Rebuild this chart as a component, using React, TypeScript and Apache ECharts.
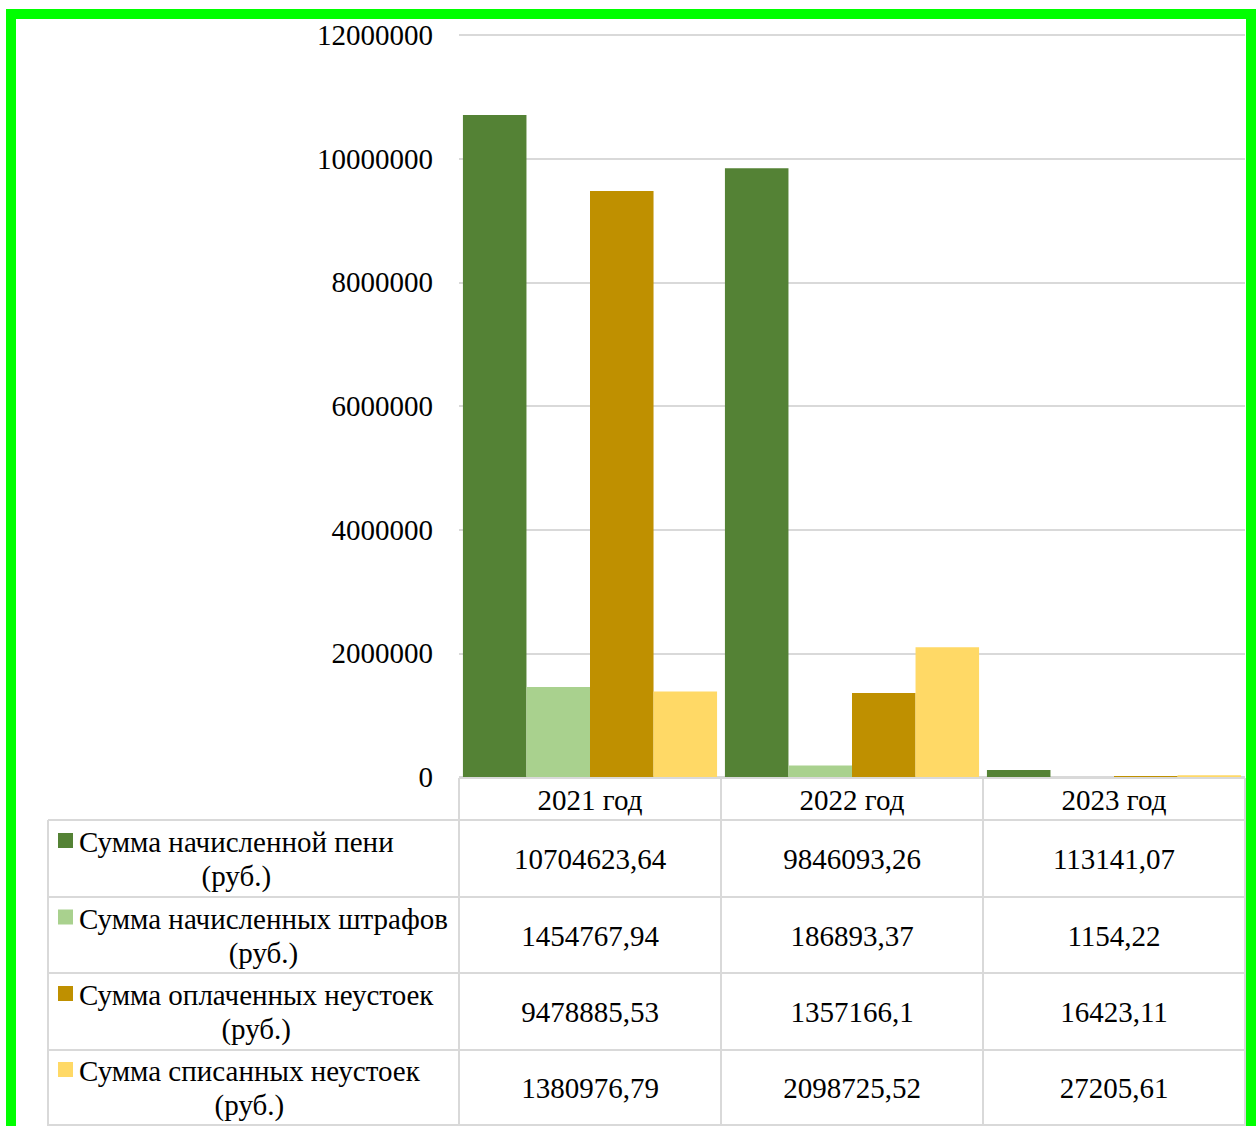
import React, { useEffect, useRef } from "react";
import * as echarts from "echarts";

const categories = ["2021 год", "2022 год", "2023 год"];
const seriesNames = [
  "Сумма начисленной пени (руб.)",
  "Сумма начисленных штрафов (руб.)",
  "Сумма оплаченных неустоек (руб.)",
  "Сумма списанных неустоек (руб.)",
];
const peni = [10704623.64, 9846093.26, 113141.07];
const shtrafy = [1454767.94, 186893.37, 1154.22];
const oplacheno = [9478885.53, 1357166.1, 16423.11];
const spisano = [1380976.79, 2098725.52, 27205.61];
const seriesValues = [peni, shtrafy, oplacheno, spisano];
const colors = ["#548235", "#A9D18E", "#BF9000", "#FFD966"];
const yMax = 12000000;
const yStep = 2000000;

const FONT = "Liberation Serif";
const FS = 29;

const fmt = (v: number) => String(v).replace(".", ",");

function measure(text: string): number {
  const c = document.createElement("canvas").getContext("2d");
  if (!c) return text.length * 12;
  c.font = `${FS}px "${FONT}"`;
  return c.measureText(text).width;
}

export default function App() {
  const ref = useRef<HTMLDivElement>(null);
  useEffect(() => {
    if (!ref.current) return;
    const chart = echarts.init(ref.current, null, { renderer: "svg" });

    const gridLeft = 459;
    const gridRight = 1245;
    const zeroY = 777;
    const colX = [459, 721, 983, 1245];
    const tableLeft = 48;
    const rowLines = [820, 897, 973, 1050, 1125];
    const lineColor = "#d9d9d9";
    const lw = 2;
    const textStyle = (t: string, align: string) => ({
      text: t,
      fontSize: FS,
      fontFamily: FONT,
      fill: "#000",
      align,
      verticalAlign: "middle",
    });

    const graphic: any[] = [];
    graphic.push({ type: "rect", shape: { x: 6, y: 9, width: 1250, height: 10 }, style: { fill: "#00ff00" }, z: 100 });
    graphic.push({ type: "rect", shape: { x: 6, y: 9, width: 10, height: 1200 }, style: { fill: "#00ff00" }, z: 100 });
    graphic.push({ type: "rect", shape: { x: 1246, y: 9, width: 10, height: 1200 }, style: { fill: "#00ff00" }, z: 100 });

    graphic.push({ type: "line", shape: { x1: colX[0], y1: 778, x2: colX[3], y2: 778 }, style: { stroke: lineColor, lineWidth: lw }, z: 50 });
    rowLines.forEach((y) =>
      graphic.push({ type: "line", shape: { x1: tableLeft, y1: y, x2: colX[3], y2: y }, style: { stroke: lineColor, lineWidth: lw }, z: 50 })
    );
    graphic.push({ type: "line", shape: { x1: tableLeft, y1: rowLines[0], x2: tableLeft, y2: 1126 }, style: { stroke: lineColor, lineWidth: lw }, z: 50 });
    colX.forEach((x) =>
      graphic.push({ type: "line", shape: { x1: x, y1: 778, x2: x, y2: 1126 }, style: { stroke: lineColor, lineWidth: lw }, z: 50 })
    );

    for (let i = 0; i < seriesNames.length; i++) {
      const top = rowLines[i];
      const bottom = rowLines[i + 1];
      const cy = (top + bottom) / 2 + 0.5;
      const parts = seriesNames[i].split(" (");
      const lines = [parts[0], "(" + parts[1]];
      const w = Math.max(...lines.map(measure));
      const textLeft = 79;
      const lh = 34;
      const l1 = cy - lh / 2;
      graphic.push({ type: "rect", shape: { x: 58, y: l1 - 9, width: 15, height: 15 }, style: { fill: colors[i] }, z: 60 });
      lines.forEach((t, k) =>
        graphic.push({ type: "text", x: textLeft + w / 2, y: l1 + k * lh, style: textStyle(t, "center"), z: 60 })
      );
      for (let j = 0; j < categories.length; j++) {
        graphic.push({
          type: "text",
          x: (colX[j] + colX[j + 1]) / 2,
          y: cy,
          style: textStyle(fmt(seriesValues[i][j]), "center"),
          z: 60,
        });
      }
    }

    chart.setOption({
      animation: false,
      backgroundColor: "#ffffff",
      grid: { left: gridLeft, right: 1259 - gridRight, top: 35, bottom: 1126 - zeroY, containLabel: false },
      xAxis: {
        type: "category",
        data: categories,
        axisLine: { show: false },
        axisTick: { show: false },
        axisLabel: { fontSize: FS, fontFamily: FONT, color: "#000", margin: 23, verticalAlign: "middle" },
      },
      yAxis: {
        type: "value",
        min: 0,
        max: yMax,
        interval: yStep,
        axisLine: { show: false },
        axisTick: { show: false },
        axisLabel: { fontSize: FS, fontFamily: FONT, color: "#000", margin: 26, formatter: (v: number) => String(v) },
        splitLine: { lineStyle: { color: lineColor, width: lw } },
      },
      series: seriesNames.map((name, i) => ({
        name,
        type: "bar",
        data: seriesValues[i],
        itemStyle: { color: colors[i] },
        barGap: "0%",
        barCategoryGap: "3%",
      })),
      graphic,
    });
    return () => chart.dispose();
  }, []);
  return (
    <div
      ref={ref}
      style={{ position: "fixed", left: 0, top: 0, width: 1259, height: 1126, background: "#fff" }}
    />
  );
}
